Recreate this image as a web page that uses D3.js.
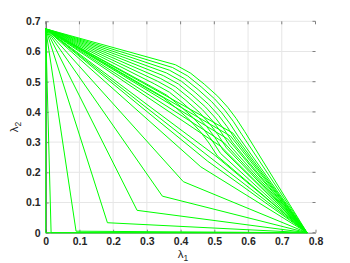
<!DOCTYPE html>
<html>
<head>
<meta charset="utf-8">
<script src="https://cdn.jsdelivr.net/npm/d3@7"></script>
<style>
  body { margin: 0; background: #fff; }
  text { font-family: "Liberation Sans", Arial, sans-serif; }
</style>
</head>
<body>
<div id="chart"></div>
<script>
// tick values
const xTicks = [0, 0.1, 0.2, 0.3, 0.4, 0.5, 0.6, 0.7, 0.8];
const yTicks = [0, 0.1, 0.2, 0.3, 0.4, 0.5, 0.6, 0.7];

// every front starts and ends at the same corners
const startPoint = [0, 0.675];
const endPoint = [0.775, 0];

// two-segment fronts: the single knee of each one
const knees = [
  [0, 0], [0.016, 0], [0.09, 0.005], [0.183, 0.033], [0.271, 0.074],
  [0.346, 0.121], [0.408, 0.169], [0.46, 0.218], [0.48, 0.237],
  [0.49, 0.247], [0.50, 0.258], [0.52, 0.285], [0.53, 0.297],
  [0.54, 0.31], [0.548, 0.32], [0.555, 0.33]
];

// upper fronts, inner points only
const upperFronts = [
  [[0.385, 0.556], [0.43, 0.528], [0.47, 0.492], [0.51, 0.452], [0.54, 0.415], [0.565, 0.378], [0.59, 0.335]],
  [[0.376, 0.547], [0.421, 0.519], [0.461, 0.483], [0.501, 0.443], [0.531, 0.406], [0.556, 0.369], [0.581, 0.326]],
  [[0.367, 0.538], [0.412, 0.51], [0.452, 0.474], [0.492, 0.434], [0.522, 0.397], [0.547, 0.36], [0.572, 0.317]],
  [[0.358, 0.529], [0.403, 0.501], [0.443, 0.465], [0.483, 0.425], [0.513, 0.388], [0.538, 0.351], [0.563, 0.308]],
  [[0.349, 0.52], [0.394, 0.492], [0.434, 0.456], [0.474, 0.416], [0.504, 0.379], [0.529, 0.342], [0.554, 0.299]],
  [[0.34, 0.511], [0.385, 0.483], [0.425, 0.447], [0.465, 0.407], [0.495, 0.37], [0.52, 0.333], [0.545, 0.29]],
  [[0.331, 0.502], [0.376, 0.474], [0.416, 0.438], [0.456, 0.398], [0.486, 0.361], [0.511, 0.324], [0.536, 0.281]],
  [[0.322, 0.493], [0.367, 0.465], [0.407, 0.429], [0.447, 0.389], [0.477, 0.352], [0.502, 0.315], [0.527, 0.272]],
  [[0.313, 0.484], [0.358, 0.456], [0.398, 0.42], [0.438, 0.38], [0.468, 0.343], [0.493, 0.306], [0.518, 0.263]],
  [[0.304, 0.475], [0.349, 0.447], [0.389, 0.411], [0.429, 0.371], [0.459, 0.334], [0.484, 0.297], [0.509, 0.254]]
];

const W = 350, H = 263;
const m = {left: 45.7, right: 315.5, top: 21.3, bottom: 232.7};

const svg = d3.select("#chart").append("svg")
  .attr("width", W).attr("height", H);

const x = d3.scaleLinear().domain([0, 0.8]).range([m.left, m.right]);
const y = d3.scaleLinear().domain([0, 0.7]).range([m.bottom, m.top]);

// grid
svg.append("g").selectAll("line").data(xTicks.slice(1, -1)).enter().append("line")
  .attr("x1", d => x(d)).attr("x2", d => x(d))
  .attr("y1", m.top).attr("y2", m.bottom)
  .attr("stroke", "#e6e6e6").attr("stroke-width", 1);
svg.append("g").selectAll("line").data(yTicks.slice(1)).enter().append("line")
  .attr("x1", m.left).attr("x2", m.right)
  .attr("y1", d => y(d)).attr("y2", d => y(d))
  .attr("stroke", "#e6e6e6").attr("stroke-width", 1);

// axes
const xAxis = svg.append("g")
  .attr("transform", "translate(0," + m.bottom + ")")
  .call(d3.axisBottom(x).tickValues(xTicks).tickFormat(d3.format("")).tickSizeInner(-3).tickSizeOuter(0).tickPadding(5));
const yAxis = svg.append("g")
  .attr("transform", "translate(" + m.left + ",0)")
  .call(d3.axisLeft(y).tickValues(yTicks).tickFormat(d3.format("")).tickSizeInner(-3).tickSizeOuter(0).tickPadding(5));

xAxis.select(".domain").attr("stroke", "#808080");
yAxis.select(".domain").attr("stroke", "#404040");
[xAxis, yAxis].forEach(a => {
  a.selectAll(".tick line").attr("stroke", "#808080");
  a.selectAll("text")
    .attr("fill", "#262626")
    .style("font-size", "10.5px")
    .style("font-weight", "bold")
    .style("font-family", "'Liberation Sans', Arial, sans-serif");
});

// mirrored ticks on top and right
svg.append("g").selectAll("line").data(xTicks).enter().append("line")
  .attr("x1", d => x(d)).attr("x2", d => x(d))
  .attr("y1", m.top).attr("y2", m.top + 3)
  .attr("stroke", "#808080");
svg.append("g").selectAll("line").data(yTicks).enter().append("line")
  .attr("x1", m.right - 3).attr("x2", m.right)
  .attr("y1", d => y(d)).attr("y2", d => y(d))
  .attr("stroke", "#808080");

// build fronts
const fronts = [];
knees.forEach(k => fronts.push([startPoint, k, endPoint]));
upperFronts.forEach(p => fronts.push([startPoint].concat(p, [endPoint])));

const line = d3.line().x(d => x(d[0])).y(d => y(d[1]));

svg.append("g").selectAll("path").data(fronts).enter().append("path")
  .attr("d", line)
  .attr("fill", "none")
  .attr("stroke", "#00ff00")
  .attr("stroke-width", 1);

// axis labels
const xl = svg.append("text")
  .attr("x", 183).attr("y", 257.5)
  .attr("text-anchor", "middle")
  .attr("fill", "#262626")
  .style("font-size", "11.5px");
xl.append("tspan").text("λ");
xl.append("tspan").attr("dy", 3).style("font-size", "8.5px").text("1");

const yl = svg.append("text")
  .attr("transform", "translate(18,127) rotate(-90)")
  .attr("text-anchor", "middle")
  .attr("fill", "#262626")
  .style("font-size", "11.5px");
yl.append("tspan").text("λ");
yl.append("tspan").attr("dy", 3).style("font-size", "8.5px").text("2");
</script>
</body>
</html>
